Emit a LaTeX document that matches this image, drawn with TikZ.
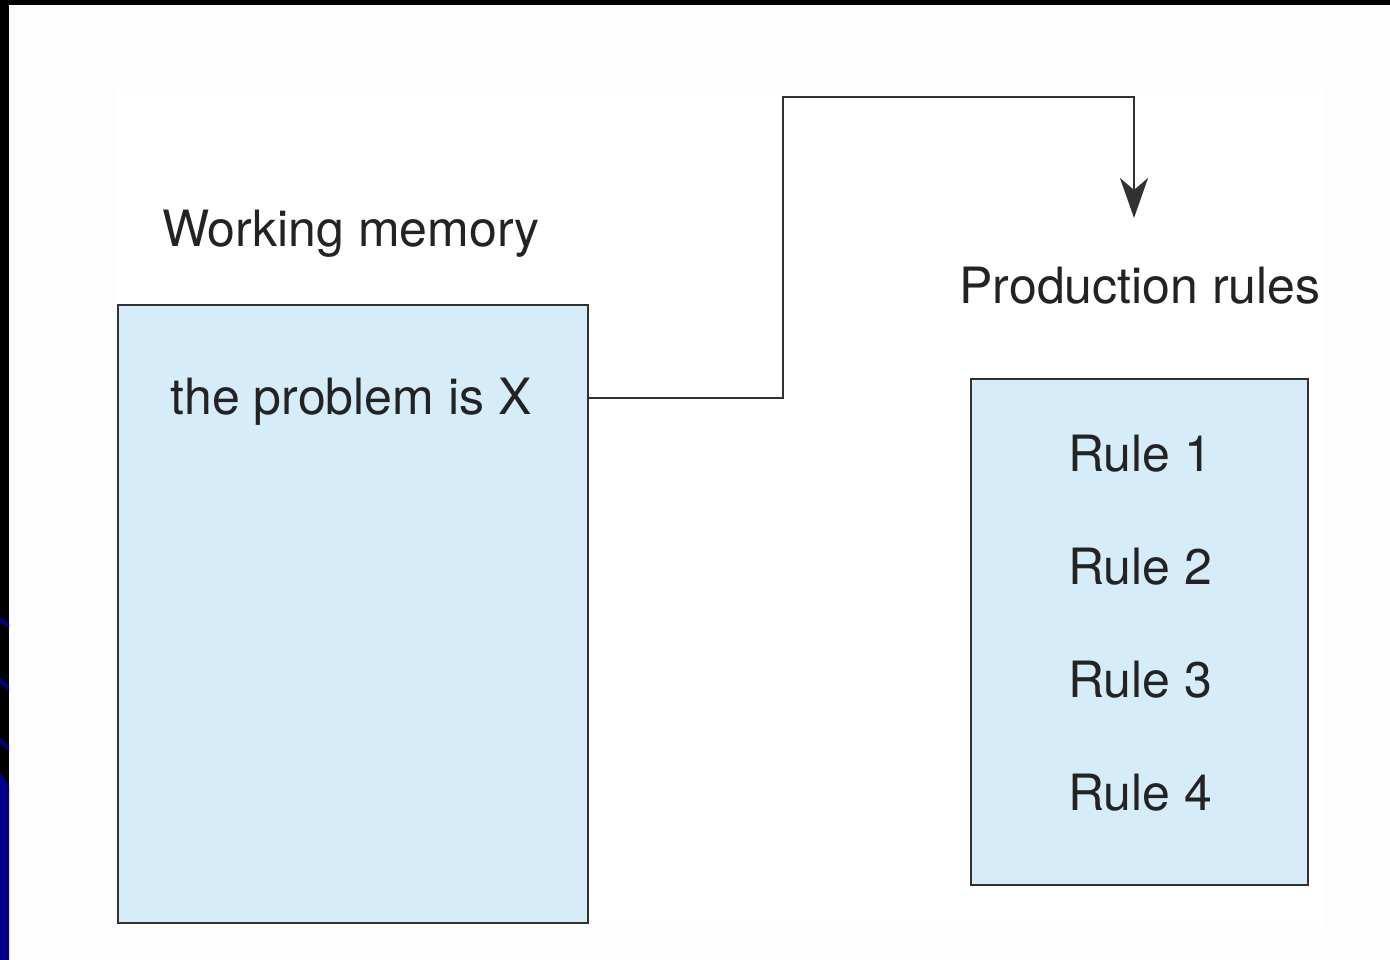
\documentclass[tikz,border=0pt]{standalone}
\usepackage{fontspec}
\setmainfont{TeX Gyre Heros}
\usetikzlibrary{arrows.meta}
\definecolor{boxfill}{RGB}{214,237,249}
\definecolor{ink}{RGB}{35,35,35}
\definecolor{edge}{RGB}{50,50,50}
\definecolor{slideblue}{RGB}{0,0,140}
\definecolor{paper}{RGB}{253,253,253}
\tikzset{
  memorybox/.style={draw=edge, line width=2.8pt, fill=boxfill, inner sep=0pt},
  label text/.style={text=ink, font=\fontsize{50}{60}\selectfont, inner sep=0pt, anchor=base},
  flow/.style={draw=edge, line width=2.6pt,
    -{Stealth[length=40pt, width=28pt, inset=12pt]}}
}
\begin{document}
\begin{tikzpicture}[x=1pt, y=-1pt]
  \useasboundingbox (0,0) rectangle (1390,960);
  % page background and figure area
  \fill[paper] (0,0) rectangle (1390,960);
  \fill[white] (117,90) rectangle (1325,926);
  % slide frame: top and left bands
  \fill[black] (0,0) rectangle (1390,5);
  \fill[black] (0,0) rectangle (9,960);
  \fill[slideblue] (0,772) -- (9,786) -- (9,960) -- (0,960) -- cycle;
  \fill[slideblue] (0,617) -- (9,623) -- (9,628) -- (0,622) -- cycle;
  \fill[slideblue] (0,678) -- (9,686) -- (9,691) -- (0,683) -- cycle;
  \fill[slideblue] (0,738) -- (9,746) -- (9,751) -- (0,743) -- cycle;

  % working memory
  \node[memorybox, minimum width=470pt, minimum height=618pt] (wm) at (353,614) {};
  \node[label text] (wmtitle) at (351,247) {Working memory};
  \node[label text] (prob) at (351,414) {the problem is X};

  % production rules
  \node[memorybox, minimum width=337pt, minimum height=506pt] (pr) at (1139.5,632) {};
  \node[label text] (prtitle) at (1140,303) {Production rules};
  \node[label text] (r1) at (1140,471) {Rule 1};
  \node[label text] (r2) at (1140,584) {Rule 2};
  \node[label text] (r3) at (1140,697) {Rule 3};
  \node[label text] (r4) at (1140,810) {Rule 4};

  % connector from working memory to the rule set
  \coordinate (bend) at (783,97);
  \coordinate (tip) at (1134,218);
  \draw[flow] (wm.east |- 0,398) -| (bend) -| (tip);
\end{tikzpicture}
\end{document}
